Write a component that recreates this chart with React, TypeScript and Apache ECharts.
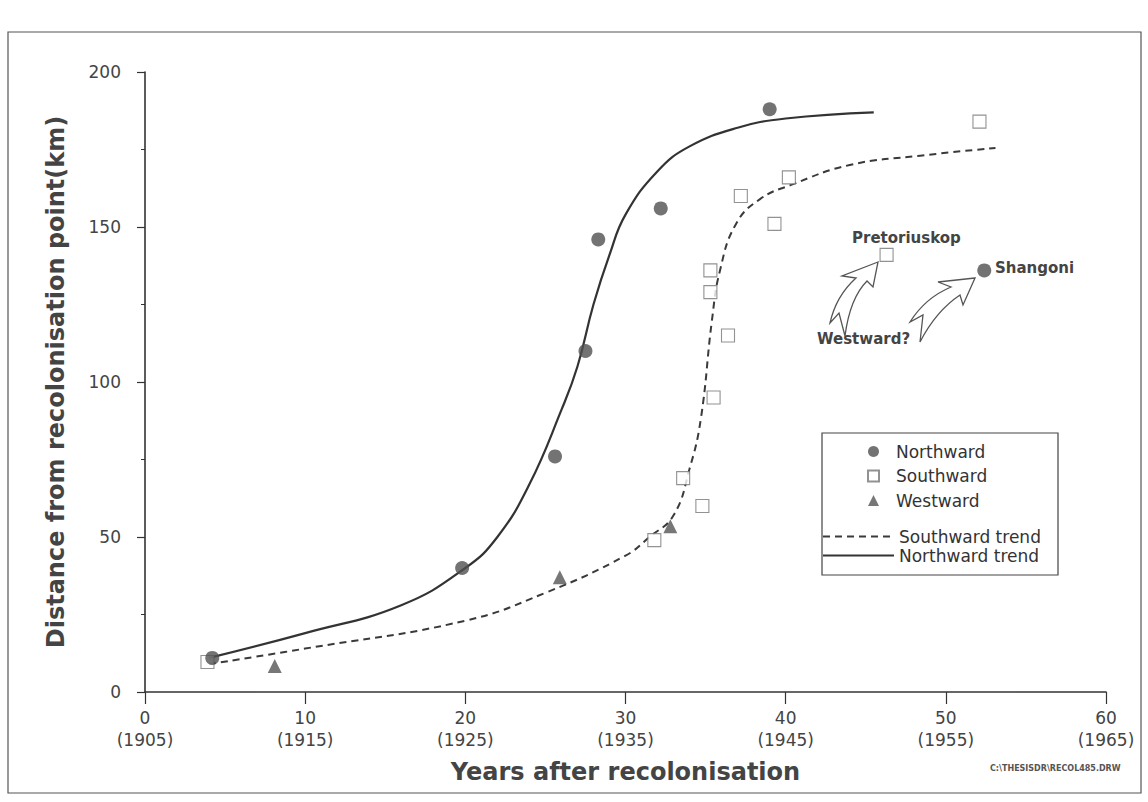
import React, { useEffect, useRef } from 'react';
import * as echarts from 'echarts';

// ---------------- data ----------------
const xTickLabels = ['0\n(1905)', '10\n(1915)', '20\n(1925)', '30\n(1935)', '40\n(1945)', '50\n(1955)', '60\n(1965)'];

const northX = [4.2, 19.8, 25.6, 27.5, 28.3, 32.2, 39.0, 52.4];
const northY = [11, 40, 76, 110, 146, 156, 188, 136];

const southX = [3.9, 31.8, 33.6, 34.8, 35.5, 36.4, 35.3, 35.3, 37.2, 39.3, 40.2, 46.3, 52.1];
const southY = [9.7, 49, 69, 60, 95, 115, 129, 136, 160, 151, 166, 141, 184];

const westX = [8.1, 25.9, 32.8];
const westY = [8.4, 37, 53.5];

const northTrendX = [4, 10, 16, 20, 22, 24, 26, 27, 28, 29, 30, 32, 34, 37, 40, 45.5];
const northTrendY = [11, 19, 28, 40, 50, 67, 91, 105, 125, 141, 154, 168, 176, 182, 185, 187];

const southTrendX = [4, 10, 20, 25, 30, 31.5, 33, 34, 34.7, 35.4, 35.9, 36.9, 38.4, 40.3, 44, 48.4, 53.1];
const southTrendY = [9, 14, 23, 32, 44, 50, 57, 72, 88, 120, 136, 151, 159, 163.5, 170, 173, 175.5];

const zip = (xs: number[], ys: number[]) => xs.map((x, i) => [x, ys[i]]);

// ---------------- annotation arrows ----------------
const ARROW_A =
  'M 878 262 L 842 276 L 856 278 Q 836 296 830 323 L 839 313 L 845 336 Q 850 298 867 281 L 873 287 Z';
const ARROW_B =
  'M 975 278 L 938 282 L 951 287 Q 925 298 910 322 L 923 315 L 920 342 Q 936 311 960 295 L 963 305 Z';

let registered = false;
function registerShapes() {
  if (registered) return;
  echarts.graphic.registerShape('arrowA', echarts.graphic.extendPath(ARROW_A, {}) as any);
  echarts.graphic.registerShape('arrowB', echarts.graphic.extendPath(ARROW_B, {}) as any);
  registered = true;
}

const FONT = 'DejaVu Sans, Liberation Sans, Arial, sans-serif';

export default function App() {
  const ref = useRef<HTMLDivElement>(null);

  useEffect(() => {
    if (!ref.current) return;
    registerShapes();
    const chart = echarts.init(ref.current, null, { renderer: 'svg' });
    const option: any = {
      animation: false,
      backgroundColor: '#fff',
      textStyle: { fontFamily: FONT },
      grid: { left: 145, right: 42, top: 72, bottom: 110, containLabel: false },
      xAxis: {
        type: 'value',
        min: 0,
        max: 60,
        interval: 10,
        name: 'Years after recolonisation',
        nameLocation: 'middle',
        nameGap: 68,
        nameTextStyle: { fontFamily: FONT, fontSize: 24, fontWeight: 'bold', color: '#444' },
        axisLine: { show: true, onZero: false, lineStyle: { color: '#333', width: 1.6 } },
        axisTick: { show: true, length: 12, lineStyle: { color: '#333', width: 1.2 } },
        axisLabel: {
          margin: 15,
          fontSize: 17,
          lineHeight: 22,
          color: '#444',
          fontFamily: FONT,
          formatter: (v: number) => xTickLabels[Math.round(v / 10)] ?? '',
        },
        splitLine: { show: false },
      },
      yAxis: {
        type: 'value',
        min: 0,
        max: 200,
        interval: 50,
        name: 'Distance from recolonisation point(km)',
        nameLocation: 'middle',
        nameGap: 77,
        nameTextStyle: { fontFamily: FONT, fontSize: 24, fontWeight: 'bold', color: '#444' },
        axisLine: { show: true, onZero: false, lineStyle: { color: '#333', width: 1.6 } },
        axisTick: { show: true, length: 8, lineStyle: { color: '#333', width: 1.2 } },
        minorTick: { show: true, splitNumber: 2, length: 4, lineStyle: { color: '#333', width: 1 } },
        axisLabel: { margin: 24, fontSize: 17, color: '#444', fontFamily: FONT },
        splitLine: { show: false },
      },
      legend: [
        {
          data: ['Northward', 'Southward', 'Westward'],
          orient: 'vertical',
          left: 867,
          top: 443,
          padding: 0,
          itemWidth: 11,
          itemHeight: 11,
          itemGap: 7.5,
          selectedMode: false,
          textStyle: { fontFamily: FONT, fontSize: 17, lineHeight: 17, color: '#333', padding: [0, 0, 0, 12] },
        },
        {
          data: ['Southward trend', 'Northward trend'],
          orient: 'vertical',
          left: 822,
          top: 528,
          padding: 0,
          itemWidth: 71,
          itemHeight: 12,
          itemGap: 2,
          selectedMode: false,
          itemStyle: { opacity: 0 },
          textStyle: { fontFamily: FONT, fontSize: 17, lineHeight: 17, color: '#333' },
        },
      ],
      series: [
        {
          name: 'Southward trend',
          type: 'line',
          data: zip(southTrendX, southTrendY),
          smooth: 0.45,
          symbol: 'none',
          lineStyle: { color: '#3a3a3a', width: 2, type: [7, 5] },
          itemStyle: { color: '#3a3a3a' },
          z: 2,
        },
        {
          name: 'Northward trend',
          type: 'line',
          data: zip(northTrendX, northTrendY),
          smooth: 0.45,
          symbol: 'none',
          lineStyle: { color: '#333', width: 2.2, type: 'solid' },
          itemStyle: { color: '#333' },
          z: 2,
        },
        {
          name: 'Northward',
          type: 'scatter',
          data: zip(northX, northY),
          symbol: 'circle',
          symbolSize: 14,
          itemStyle: { color: '#505050' },
          z: 4,
        },
        {
          name: 'Southward',
          type: 'scatter',
          data: zip(southX, southY),
          symbol: 'rect',
          symbolSize: 13,
          itemStyle: { color: '#fff', borderColor: '#777', borderWidth: 1.1 },
          z: 3,
        },
        {
          name: 'Westward',
          type: 'scatter',
          data: zip(westX, westY),
          symbol: 'triangle',
          symbolSize: 14,
          itemStyle: { color: '#555' },
          z: 4,
        },
      ],
      graphic: [
        {
          type: 'rect',
          shape: { x: 8, y: 32, width: 1133, height: 761 },
          style: { fill: 'none', stroke: '#555', lineWidth: 1.2 },
          silent: true,
        },
        {
          type: 'rect',
          shape: { x: 822, y: 433, width: 236, height: 142 },
          style: { fill: 'none', stroke: '#444', lineWidth: 1.2 },
          silent: true,
        },
        {
          type: 'arrowA',
          x: 0,
          y: 0,
          style: { fill: 'none', stroke: '#555', lineWidth: 1.3 },
          silent: true,
        },
        {
          type: 'arrowB',
          x: 0,
          y: 0,
          style: { fill: 'none', stroke: '#555', lineWidth: 1.3 },
          silent: true,
        },
        {
          type: 'text',
          x: 852,
          y: 238,
          style: { text: 'Pretoriuskop', fontFamily: FONT, fontSize: 15, fontWeight: 'bold', fill: '#444', verticalAlign: 'middle' },
        },
        {
          type: 'text',
          x: 995,
          y: 268,
          style: { text: 'Shangoni', fontFamily: FONT, fontSize: 15, fontWeight: 'bold', fill: '#444', verticalAlign: 'middle' },
        },
        {
          type: 'text',
          x: 817,
          y: 339,
          style: { text: 'Westward?', fontFamily: FONT, fontSize: 15, fontWeight: 'bold', fill: '#444', verticalAlign: 'middle' },
        },
        {
          type: 'text',
          x: 990,
          y: 768,
          style: { text: 'C:\\THESISDR\\RECOL485.DRW', fontFamily: FONT, fontSize: 8, fontWeight: 'bold', fill: '#555', verticalAlign: 'middle' },
        },
      ],
    };
    chart.setOption(option);
    return () => chart.dispose();
  }, []);

  return (
    <div
      ref={ref}
      style={{ position: 'absolute', left: 0, top: 0, width: 1148, height: 802, background: '#fff' }}
    />
  );
}
